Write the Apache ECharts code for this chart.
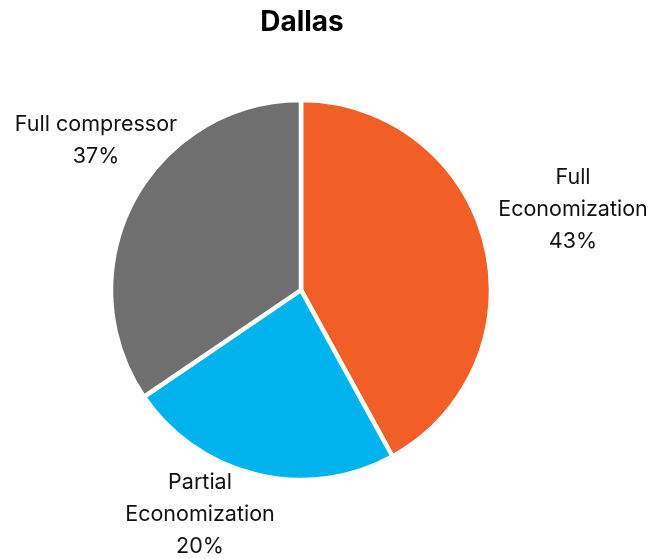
<!DOCTYPE html>
<html>
<head>
<meta charset="utf-8">
<script src="https://cdn.jsdelivr.net/npm/echarts@6/dist/echarts.min.js"></script>
<style>
  html, body { margin: 0; padding: 0; background: #fff; }
  #chart { width: 667px; height: 559px; }
</style>
</head>
<body>
<div id="chart"></div>
<script>
// data
const CATEGORIES = ['Full\nEconomization', 'Partial\nEconomization', 'Full compressor'];
// slice sizes as drawn in the picture
const VALUES = [42, 23.5, 34.5];
// percentages as printed on the picture
const PCT_LABELS = ['43%', '20%', '37%'];
const COLORS = ['#F15F27', '#00B3EC', '#6F6F6F'];

// where each label sits (center of the text block)
const LABEL_POS = [[573, 210], [200, 515], [96, 141]];

const chart = echarts.init(document.getElementById('chart'));

let option = {
  title: {
    text: 'Dallas',
    left: 297,
    textAlign: 'center',
    top: 4,
    textStyle: { fontFamily: 'Inter', fontSize: 28, fontWeight: 'bold', color: '#000' }
  },
  series: [{
    type: 'pie',
    center: [301, 290],
    radius: 190,
    startAngle: 90,
    clockwise: true,
    avoidLabelOverlap: false,
    data: CATEGORIES.map((name, i) => ({
      name: name,
      value: VALUES[i],
      itemStyle: { color: COLORS[i] }
    })),
    itemStyle: { borderColor: '#fff', borderWidth: 4.5 },
    label: {
      position: 'outside',
      formatter: (p) => p.name + '\n' + PCT_LABELS[p.dataIndex],
      fontFamily: 'Inter',
      fontSize: 21.5,
      lineHeight: 32,
      color: '#111'
    },
    labelLine: { show: false },
    labelLayout: (params) => ({
      x: LABEL_POS[params.dataIndex][0],
      y: LABEL_POS[params.dataIndex][1],
      align: 'center',
      verticalAlign: 'middle'
    }),
    emphasis: { disabled: true }
  }]
};

chart.setOption(option);
</script>
</body>
</html>
